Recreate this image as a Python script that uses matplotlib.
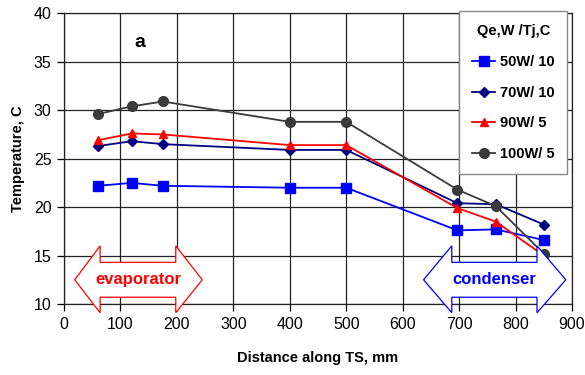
import matplotlib.pyplot as plt
from matplotlib.patches import Polygon

plt.rcParams['font.family'] = ['Liberation Sans', 'DejaVu Sans']

# distance along TS, mm
dist = [60, 120, 175, 400, 500, 697, 765, 850]
t_50w = [22.2, 22.5, 22.2, 22.0, 22.0, 17.6, 17.7, 16.6]
t_70w = [26.3, 26.8, 26.5, 25.9, 25.9, 20.4, 20.3, 18.2]
t_90w = [26.9, 27.6, 27.5, 26.4, 26.4, 19.9, 18.5, 15.0]
t_100w = [29.6, 30.4, 30.9, 28.8, 28.8, 21.8, 20.1, 15.2]

series = [
    ("50W/ 10", t_50w, "#0000ff", "s", 7),
    ("70W/ 10", t_70w, "#000080", "D", 5.5),
    ("90W/ 5", t_90w, "#ff0000", "^", 5.5),
    ("100W/ 5", t_100w, "#3a3a3a", "o", 7),
]

fig = plt.figure(figsize=(5.85, 3.75), dpi=100)
ax = fig.add_axes([0.1094, 0.1893, 0.8684, 0.7752])

for name, vals, col, mk, ms in series:
    ax.plot(dist, vals, color=col, marker=mk, markersize=ms, lw=1.3, label=name, zorder=3)

ax.set_xlim(0, 900)
ax.set_ylim(10, 40)
ax.set_xticks(range(0, 901, 100))
ax.set_yticks(range(10, 41, 5))
ax.grid(True, color="#222222", lw=0.9)
ax.set_axisbelow(True)
for s in ax.spines.values():
    s.set_color("#222222")
    s.set_linewidth(0.9)
ax.tick_params(direction="out", length=5, width=0.9, labelsize=11.5, pad=4)

ax.set_xlabel("Distance along TS, mm", fontsize=10.5, fontweight="bold", labelpad=14)
ax.set_ylabel("Temperature, C", fontsize=10.5, fontweight="bold", labelpad=6)
ax.text(135, 37.0, "a", fontsize=14, fontweight="bold", ha="center", va="center")


def double_arrow(x0, x1, xb0, xb1, color):
    pts = [(x0, 12.5), (xb0, 16.0), (xb0, 14.3), (xb1, 14.3), (xb1, 16.0), (x1, 12.5),
           (xb1, 9.1), (xb1, 10.7), (xb0, 10.7), (xb0, 9.1)]
    ax.add_patch(Polygon(pts, closed=True, facecolor="white", edgecolor=color,
                         lw=0.9, clip_on=False, zorder=4))


double_arrow(19, 245, 64, 198, "#ff0000")
double_arrow(637, 889, 687, 838, "#0000ff")
ax.text(131, 12.5, "evaporator", color="#ff0000", fontsize=12, fontweight="bold",
        ha="center", va="center", zorder=5)
ax.text(762, 12.5, "condenser", color="#0000ff", fontsize=12, fontweight="bold",
        ha="center", va="center", zorder=5)

leg = ax.legend(loc="upper left", bbox_to_anchor=(0.772, 0.99), bbox_transform=fig.transFigure,
                title="Qe,W /Tj,C", fancybox=False, framealpha=1, edgecolor="#888888",
                prop={"weight": "bold", "size": 10.5}, title_fontproperties={"weight": "bold", "size": 10.5},
                handlelength=1.6, labelspacing=1.15, borderpad=0.9, handletextpad=0.3)
leg.set_zorder(6)

fig.savefig("out.png", dpi=100)
